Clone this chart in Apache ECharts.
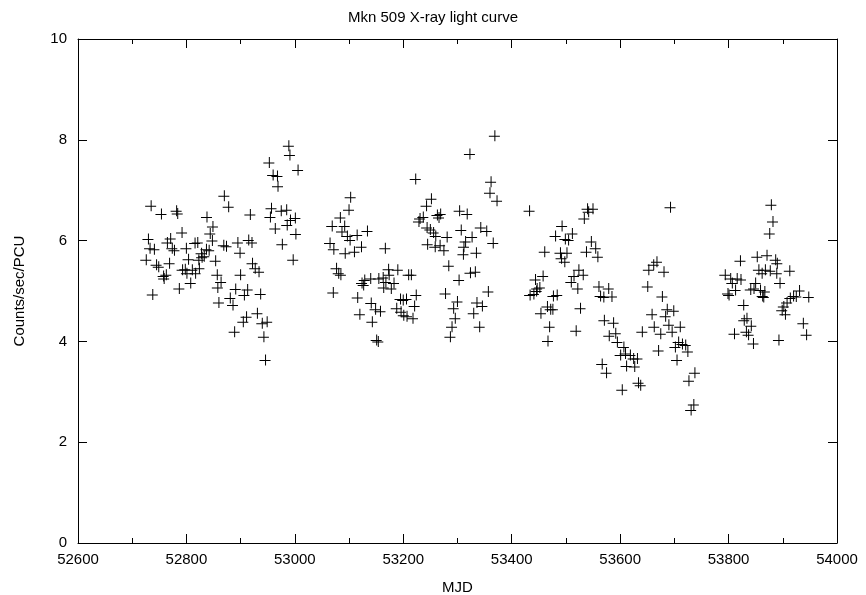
<!DOCTYPE html>
<html>
<head>
<meta charset="utf-8">
<script src="https://cdn.jsdelivr.net/npm/echarts@6/dist/echarts.min.js"></script>
<style>
html,body{margin:0;padding:0;background:#fff;}
#chart{width:866px;height:595px;}
</style>
</head>
<body>
<div id="chart"></div>
<script>
const titleText = 'Mkn 509 X-ray light curve';
const xName = 'MJD';
const yName = 'Counts/sec/PCU';
const xTicks = [52600, 52800, 53000, 53200, 53400, 53600, 53800, 54000];
const yTicks = [0, 2, 4, 6, 8, 10];

const mjd = [
52725,52729,52732,52734,52737,52740,52744,52748,52753,52757,52758,52762,52764,52768,52770,52773,52777,52781,52783,52786,
52791,52792,52797,52799,52800,52803,52807,52810,52815,52816,52820,52822,52823,52827,52828,52832,52836,52837,52841,52843,
52847,52848,52853,52856,52857,52859,52863,52868,52869,52873,52877,52880,52885,52888,52890,52894,52898,52899,52904,52906,
52910,52912,52914,52917,52920,52921,52926,52930,52933,52936,52939,52942,52945,52948,52952,52954,52956,52959,52963,52967,
52968,52974,52976,52984,52985,52988,52990,52991,52996,53000,53001,53005,
53064,53068,53070,53071,53076,53080,53083,53084,53086,53091,53092,53096,53099,53102,53101,53109,53114,53115,53119,53122,
53123,53126,53128,53133,53139,53140,53142,53148,53150,53153,53154,53157,53162,53163,53166,53167,53172,53173,53177,53182,
53187,53189,53194,53195,53199,53200,53205,53206,53209,53214,53217,53220,53222,53223,53228,53230,53236,53242,53243,53244,
53249,53251,53255,53259,53258,53262,53265,53268,53267,53274,53277,53280,53283,53286,53289,53292,53295,53299,53302,53303,
53306,53310,53311,53314,53317,53322,53323,53326,53329,53332,53334,53335,53340,53342,53345,53353,53356,53359,53361,53365,
53368,53372,
53432,53433,53440,53443,53445,53446,53451,53453,53457,53460,53465,53466,53469,53471,53476,53475,53480,53483,53489,53492,
53491,53498,53497,53501,53504,53509,53511,53514,53518,53521,53523,53526,53531,53533,53537,53539,53541,53546,53549,53554,
53558,53560,53563,53566,53569,53570,53574,53578,53579,53584,53587,53591,53594,53600,53603,53606,53609,53611,53618,53624,
53626,53631,53633,53637,53640,53650,53652,53658,53661,53662,53667,53670,53674,53677,53680,53683,53686,53689,53692,53695,
53698,53701,53704,53707,53710,53714,53720,53724,53726,53730,53735,53737,
53793,53798,53800,53803,53806,53810,53812,53815,53821,53822,53827,53828,53832,53833,53836,53840,53841,53845,53846,53849,
53852,53855,53858,53861,53862,53864,53866,53867,53870,53875,53876,53878,53881,53886,53888,53889,53892,53894,53898,53901,
53904,53907,53912,53913,53919,53924,53930,53937,53943,53947
];

const countsPerSec = [
5.62,6.03,5.85,6.69,4.93,5.83,5.52,5.48,6.53,5.30,5.25,5.32,5.96,5.55,6.04,5.85,5.81,6.59,6.54,5.05,
6.16,5.42,5.43,5.85,5.35,5.63,5.16,5.42,5.95,5.35,5.96,5.62,5.45,5.75,5.67,5.69,5.83,6.47,5.81,6.14,
6.00,6.28,5.60,5.32,5.07,4.77,5.18,5.91,6.89,5.89,6.67,4.86,4.72,4.19,5.04,5.96,5.76,5.32,4.39,4.92,
4.49,5.03,6.01,6.52,5.96,5.55,5.45,4.56,5.38,4.94,4.36,4.09,3.63,4.39,7.55,6.47,6.64,7.30,6.24,7.28,
7.08,6.59,5.93,6.61,6.31,7.88,7.70,6.41,5.62,6.45,6.13,7.40,
5.95,6.29,4.97,5.83,5.45,5.35,6.46,5.32,6.18,6.29,5.75,6.09,6.61,6.86,6.01,5.78,6.11,4.87,4.54,5.88,
5.16,5.12,5.22,6.19,5.25,4.76,4.39,4.64,4.03,4.00,5.25,4.60,5.27,5.07,5.85,5.18,5.43,5.32,5.05,5.16,
4.66,5.42,4.84,4.59,4.82,4.52,4.84,4.50,5.32,5.32,4.46,4.70,7.22,4.92,6.38,6.44,6.47,6.69,6.26,5.93,
6.22,6.83,6.16,6.09,5.88,6.51,6.46,6.53,5.91,5.81,4.95,6.07,5.50,4.09,4.29,4.66,4.46,4.79,5.22,6.59,
6.21,5.73,5.88,5.98,6.53,7.72,5.36,6.07,4.56,5.38,5.76,4.77,4.29,6.26,4.70,6.19,4.99,6.95,7.17,5.95,
8.08,6.79,
6.59,4.92,4.94,5.23,5.00,5.05,5.07,4.56,5.30,5.78,4.69,4.01,4.29,4.64,4.90,4.64,6.09,4.92,5.76,6.29,
5.65,6.03,5.58,5.76,6.01,5.18,6.14,5.30,4.21,5.05,5.42,4.66,5.32,6.44,5.78,6.63,6.57,5.98,6.63,5.85,
5.68,5.09,4.90,3.55,4.88,4.42,3.38,5.05,4.11,4.89,4.37,4.16,3.99,3.73,3.04,3.89,3.76,3.51,3.73,3.66,
3.50,3.66,3.18,3.13,4.19,5.09,5.42,4.54,5.52,4.29,5.58,3.82,4.15,4.89,5.38,4.50,4.64,4.33,6.66,4.19,
4.61,3.89,3.63,3.99,4.29,3.95,3.93,3.80,3.22,2.64,2.75,3.38,
5.32,4.95,4.92,5.25,5.16,4.15,5.02,5.25,5.60,5.23,4.72,4.42,4.19,4.46,4.13,5.03,4.31,3.96,5.05,5.16,
5.68,5.42,5.02,5.35,4.90,4.88,4.99,5.42,5.71,6.14,5.40,6.71,6.38,5.62,5.35,5.55,4.03,5.16,4.62,4.69,
4.54,4.77,5.40,4.86,4.90,4.89,5.01,4.36,4.13,4.88
];

const points = mjd.map((m, i) => [m, countsPerSec[i]]);
const FONT = 'Liberation Sans';
const xMin = xTicks[0], xMax = xTicks[xTicks.length - 1];
const yMin = yTicks[0], yMax = yTicks[yTicks.length - 1];
const xStep = xTicks[1] - xTicks[0], yStep = yTicks[1] - yTicks[0];

const chart = echarts.init(document.getElementById('chart'), null, {renderer: 'canvas'});

function xAxisCfg(pos, showLabels) {
  return {
    type: 'value', position: pos, min: xMin, max: xMax, interval: xStep,
    name: showLabels ? xName : '', nameLocation: 'middle', nameGap: 37,
    nameTextStyle: {fontFamily: FONT, fontSize: 15, color: '#000'},
    axisLine: {show: true, onZero: false, lineStyle: {color: '#000', width: 1}},
    axisTick: {show: true, inside: true, length: 9, lineStyle: {color: '#000', width: 1}},
    minorTick: {show: true, splitNumber: 2, length: 5, lineStyle: {color: '#000', width: 1}},
    axisLabel: {show: showLabels, fontFamily: FONT, fontSize: 15, color: '#000', margin: 9,
      formatter: v => String(v)},
    splitLine: {show: false}
  };
}
function yAxisCfg(pos, showLabels) {
  return {
    type: 'value', position: pos, min: yMin, max: yMax, interval: yStep,
    name: showLabels ? yName : '', nameLocation: 'middle', nameGap: 51,
    nameTextStyle: {fontFamily: FONT, fontSize: 15, color: '#000'},
    axisLine: {show: true, onZero: false, lineStyle: {color: '#000', width: 1}},
    axisTick: {show: true, inside: true, length: 9, lineStyle: {color: '#000', width: 1}},
    axisLabel: {show: showLabels, fontFamily: FONT, fontSize: 15, color: '#000', margin: 11,
      formatter: v => String(v)},
    splitLine: {show: false}
  };
}

chart.setOption({
  animation: false,
  backgroundColor: '#fff',
  title: {
    text: titleText, left: 'center', top: 5,
    textStyle: {fontFamily: FONT, fontSize: 15, fontWeight: 'normal', color: '#000'}
  },
  grid: {left: 78, right: 29, top: 39, bottom: 52, containLabel: false, outerBoundsMode: 'none'},
  xAxis: [xAxisCfg('bottom', true), xAxisCfg('top', false)],
  yAxis: [yAxisCfg('left', true), yAxisCfg('right', false)],
  series: [{
    type: 'scatter',
    xAxisIndex: 0, yAxisIndex: 0,
    data: points,
    symbol: 'path://M0,5.5H11V6.5H0ZM5.5,0H6.5V11H5.5Z',
    symbolSize: 11,
    itemStyle: {color: '#000', opacity: 1},
    emphasis: {disabled: true}
  }]
});
</script>
</body>
</html>
